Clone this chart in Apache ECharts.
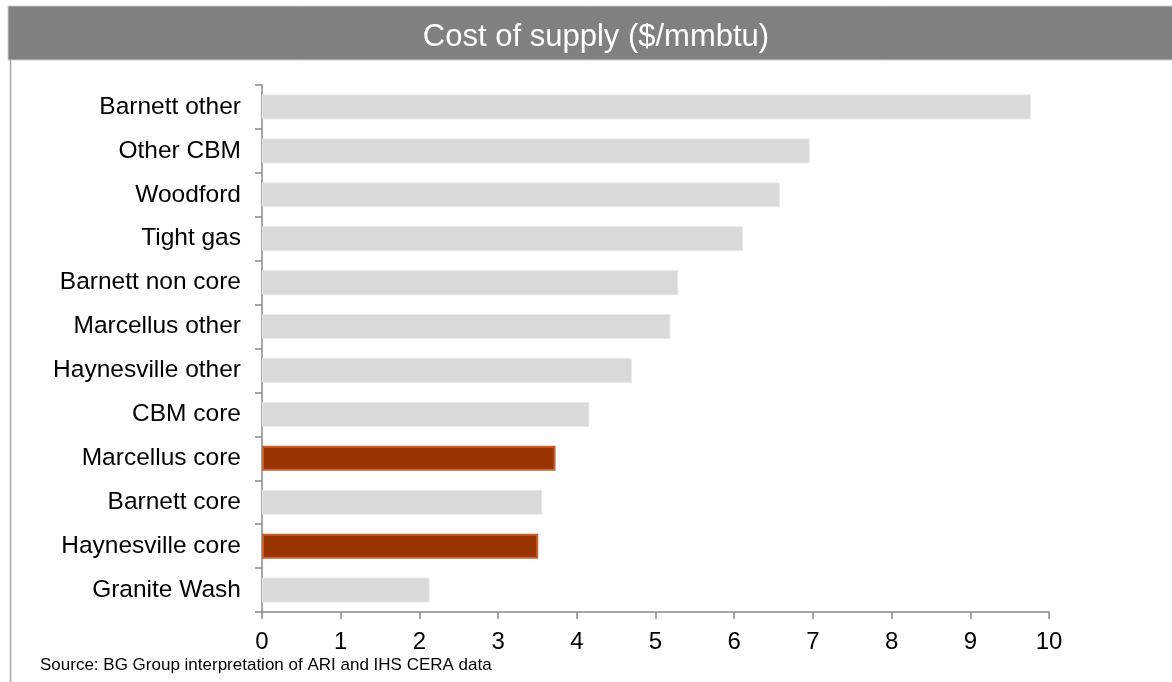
<!DOCTYPE html>
<html>
<head>
<meta charset="utf-8">
<script src="https://cdn.jsdelivr.net/npm/echarts@6/dist/echarts.min.js"></script>
<style>
  html, body { margin: 0; padding: 0; background: #ffffff; }
  #chart { width: 1172px; height: 682px; }
</style>
</head>
<body>
<div id="chart"></div>
<script>
// Cost of supply by play, $/mmbtu (top to bottom)
const categories = [
  'Barnett other', 'Other CBM', 'Woodford', 'Tight gas', 'Barnett non core',
  'Marcellus other', 'Haynesville other', 'CBM core', 'Marcellus core',
  'Barnett core', 'Haynesville core', 'Granite Wash'
];
const costs = [9.77, 6.96, 6.58, 6.11, 5.29, 5.19, 4.70, 4.16, 3.73, 3.56, 3.51, 2.13];
const highlighted = ['Marcellus core', 'Haynesville core'];
const xTicks = [0, 1, 2, 3, 4, 5, 6, 7, 8, 9, 10];

const titleText = 'Cost of supply ($/mmbtu)';
const sourceText = 'Source: BG Group interpretation of ARI and IHS CERA data';

const FONT = '"Liberation Sans", Arial, sans-serif';

const chart = echarts.init(document.getElementById('chart'), null, { renderer: 'canvas' });

const barData = categories.map((name, i) => {
  const hot = highlighted.includes(name);
  return {
    value: costs[i],
    itemStyle: hot
      ? { color: '#993300', borderColor: '#c8602e', borderWidth: 2 }
      : { color: '#d9d9d9', borderColor: '#e9e9e9', borderWidth: 1 }
  };
});

chart.setOption({
  animation: false,
  backgroundColor: '#ffffff',
  title: {
    text: titleText,
    left: 591,
    textAlign: 'center',
    top: 17,
    textStyle: { color: '#ffffff', fontFamily: FONT, fontSize: 31, fontWeight: 'normal' }
  },
  graphic: [
    {
      type: 'rect', z: -10, silent: true,
      shape: { x: 8, y: 6, width: 1170, height: 54 },
      style: { fill: '#808080', stroke: '#d0d0d0', lineWidth: 1 }
    },
    {
      type: 'line', silent: true,
      shape: { x1: 10.5, y1: 60, x2: 10.5, y2: 682 },
      style: { stroke: '#a6a6a6', lineWidth: 1.5 }
    },
    {
      type: 'text', silent: true,
      left: 40, top: 657,
      style: { text: sourceText, fill: '#000000', font: '17px ' + FONT }
    }
  ],
  grid: { left: 262, right: 123, top: 85, bottom: 70, containLabel: false },
  xAxis: {
    type: 'value',
    min: xTicks[0],
    max: xTicks[xTicks.length - 1],
    interval: 1,
    splitLine: { show: false },
    axisLine: { show: true, lineStyle: { color: '#898989', width: 1.5 } },
    axisTick: { show: true, length: 7, lineStyle: { color: '#898989', width: 1.5 } },
    axisLabel: { color: '#000000', fontFamily: FONT, fontSize: 24, margin: 18 }
  },
  yAxis: {
    type: 'category',
    data: categories,
    inverse: true,
    axisLine: { show: true, lineStyle: { color: '#898989', width: 1.5 } },
    axisTick: { show: true, length: 7, lineStyle: { color: '#898989', width: 1.5 } },
    axisLabel: {
      color: '#000000', fontFamily: FONT, fontSize: 24.5, margin: 21,
      padding: [6, 0, 0, 0]
    },
    splitLine: { show: false }
  },
  series: [{
    type: 'bar',
    data: barData,
    barWidth: 25,
    emphasis: { disabled: true }
  }]
});
</script>
</body>
</html>
